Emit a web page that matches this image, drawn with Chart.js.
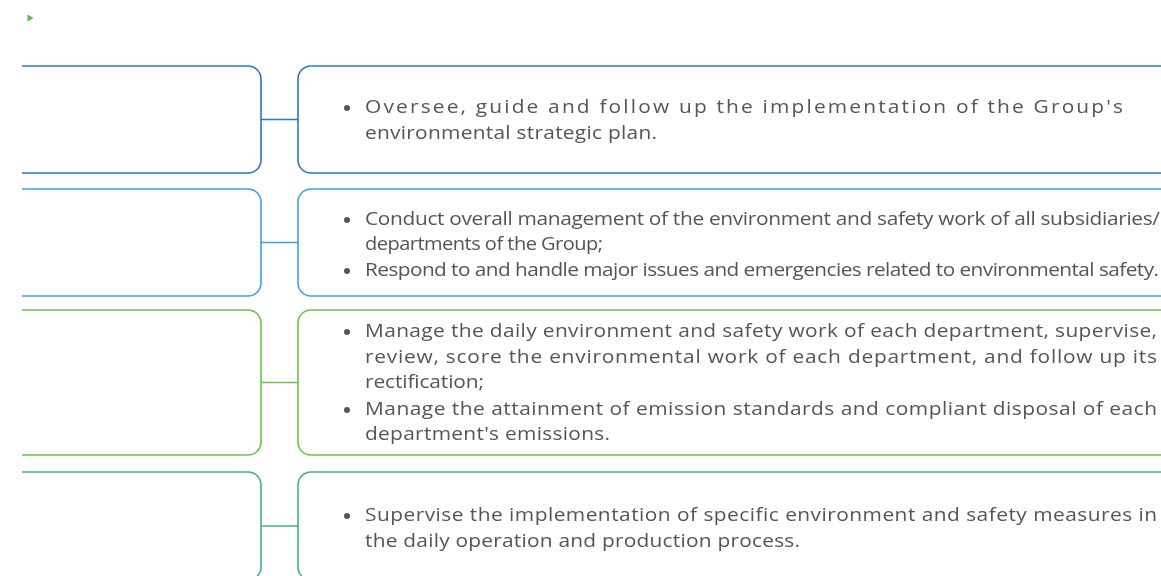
<!DOCTYPE html>
<html>
<head>
<meta charset="utf-8">
<script src="https://cdn.jsdelivr.net/npm/chart.js@4"></script>
<style>
  html, body { margin: 0; padding: 0; background: #fff; }
  #wrap { width: 1161px; height: 576px; position: relative; }
</style>
</head>
<body>
<div id="wrap"><canvas id="orgChart"></canvas></div>
<script>
// Рівні структури (зверху вниз)
const tierColors = ['#2e76c3', '#39a6df', '#6dc24b', '#3bb58c'];
const tierTop = [66, 189, 310, 472];
const tierBottom = [173, 296, 455, 580];

// Рядки тексту для кожного рівня: [текст, маркер, ширина рядка]
const tierLines = [
    [
        ["Oversee, guide and follow up the implementation of the Group's", true, 758],
        ['environmental strategic plan.', false, 292]
    ],
    [
        ['Conduct overall management of the environment and safety work of all subsidiaries/', true, 795],
        ['departments of the Group;', false, 238],
        ['Respond to and handle major issues and emergencies related to environmental safety.', true, 794]
    ],
    [
        ['Manage the daily environment and safety work of each department, supervise,', true, 792],
        ['review, score the environmental work of each department, and follow up its', false, 792],
        ['rectification;', false, 119],
        ['Manage the attainment of emission standards and compliant disposal of each', true, 792],
        ["department's emissions.", false, 245]
    ],
    [
        ['Supervise the implementation of specific environment and safety measures in', true, 792],
        ['the daily operation and production process.', false, 435]
    ]
];
const lineY = [
    [108, 134],
    [220, 245, 271],
    [332, 358, 383, 410, 435],
    [516, 542]
];

// Плагін для малювання блоків і тексту
const diagramPlugin = {
    id: 'diagram',
    afterDraw(chart) {
        const ctx = chart.ctx;
        const sx = chart.scales.x;
        const sy = chart.scales.y;
        const X = v => sx.getPixelForValue(v);
        const Y = v => sy.getPixelForValue(v);
        const r = 13;

        // маленький трикутник
        ctx.save();
        ctx.fillStyle = '#5cb947';
        ctx.beginPath();
        ctx.moveTo(X(27.5), Y(14.5));
        ctx.lineTo(X(33.5), Y(18));
        ctx.lineTo(X(27.5), Y(21.5));
        ctx.closePath();
        ctx.fill();
        ctx.restore();

        tierColors.forEach((color, i) => {
            const top = Y(tierTop[i]);
            const bot = Y(tierBottom[i]);
            const mid = Y((tierTop[i] + tierBottom[i]) / 2);
            const lx = X(22), lr = X(261);
            const rl = X(298), rr = X(1161);

            ctx.save();
            ctx.strokeStyle = color;
            ctx.lineWidth = 1.6;

            // лівий блок (відкритий зліва)
            ctx.beginPath();
            ctx.moveTo(lx, top);
            ctx.lineTo(lr - r, top);
            ctx.arcTo(lr, top, lr, top + r, r);
            ctx.lineTo(lr, bot - r);
            ctx.arcTo(lr, bot, lr - r, bot, r);
            ctx.lineTo(lx, bot);
            ctx.stroke();

            // правий блок (відкритий справа)
            ctx.beginPath();
            ctx.moveTo(rr, top);
            ctx.lineTo(rl + r, top);
            ctx.arcTo(rl, top, rl, top + r, r);
            ctx.lineTo(rl, bot - r);
            ctx.arcTo(rl, bot, rl + r, bot, r);
            ctx.lineTo(rr, bot);
            ctx.stroke();

            // з'єднувач
            ctx.beginPath();
            ctx.moveTo(lr, mid);
            ctx.lineTo(rl, mid);
            ctx.stroke();
            ctx.restore();

            // текст (гліфи трохи ширші, ніж у Open Sans)
            tierLines[i].forEach((line, j) => {
                const [text, bullet, width] = line;
                const y = Y(lineY[i][j]);
                const tx = X(365);
                ctx.save();
                ctx.font = '19px "Open Sans"';
                ctx.fillStyle = '#555555';
                ctx.textBaseline = 'middle';
                if (bullet) {
                    ctx.beginPath();
                    ctx.arc(X(347), y, 3, 0, Math.PI * 2);
                    ctx.fill();
                }
                ctx.letterSpacing = '0px';
                const natural = ctx.measureText(text).width;
                let g = 1.1;
                let sp = (width / g - natural) / (text.length - 1);
                if (sp < -0.5) {
                    sp = -0.5;
                    g = width / (natural + sp * (text.length - 1));
                }
                ctx.letterSpacing = sp.toFixed(3) + 'px';
                ctx.translate(tx, y);
                ctx.scale(g, 1);
                ctx.fillText(text, 0, 0);
                ctx.restore();
            });
        });
    }
};

const ctx = document.getElementById('orgChart').getContext('2d');
new Chart(ctx, {
    type: 'scatter',
    data: { datasets: [{ data: [] }] },
    options: {
        responsive: true,
        maintainAspectRatio: false,
        animation: false,
        layout: { padding: 0 },
        plugins: {
            legend: { display: false },
            tooltip: { enabled: false }
        },
        scales: {
            x: { type: 'linear', min: 0, max: 1161, display: false },
            y: { type: 'linear', min: 0, max: 576, reverse: true, display: false }
        }
    },
    plugins: [diagramPlugin]
});
</script>
</body>
</html>
